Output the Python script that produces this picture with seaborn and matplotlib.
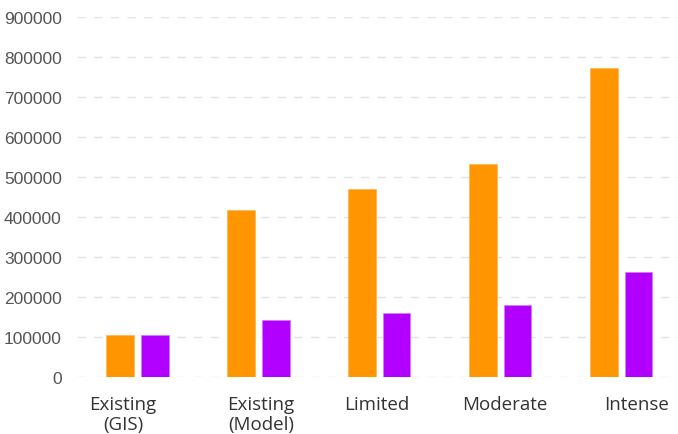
import matplotlib
matplotlib.use("Agg")
import matplotlib.pyplot as plt
import matplotlib.transforms as mtransforms
import seaborn as sns
import pandas as pd

categories = ["Existing\n(GIS)", "Existing\n(Model)", "Limited", "Moderate", "Intense"]
series_names = ["Series A", "Series B"]
orange_values = [104000, 417000, 471000, 532000, 774000]
purple_values = [104000, 141000, 159000, 179000, 262000]
y_ticks = [0, 100000, 200000, 300000, 400000, 500000, 600000, 700000, 800000, 900000]

df = pd.DataFrame({
    "category": categories * 2,
    "series": [series_names[0]] * len(categories) + [series_names[1]] * len(categories),
    "value": orange_values + purple_values,
})

sns.set_style("white")
plt.rcParams["font.family"] = ["Liberation Sans", "DejaVu Sans"]

fig = plt.figure(figsize=(6.78, 4.35), dpi=100)
ax = fig.add_axes([77 / 678, (435 - 377.7) / 435, 1 - 77 / 678, (377.7 - 18.3) / 435])

palette = {series_names[0]: "#FF9500", series_names[1]: "#B100FF"}
sns.barplot(data=df, x="category", y="value", hue="series", order=categories,
            hue_order=series_names, palette=palette, width=0.572, gap=0.2,
            saturation=1, legend=False, ax=ax, errorbar=None)

edge_cols = ["#FFB75A", "#D27CFF"]
for i, cont in enumerate(ax.containers):
    for p in cont:
        p.set_edgecolor(edge_cols[i])
        p.set_linewidth(0.6)

ax.set_ylim(0, 900000)
ax.set_xlim(-0.5, 4.47)
ax.set_yticks(y_ticks)
ax.set_yticklabels([str(v) for v in y_ticks])
ax.set_xlabel("")
ax.set_ylabel("")

for s in ax.spines.values():
    s.set_visible(False)

ax.set_axisbelow(True)
ax.yaxis.grid(True, color="#e3e3e3", linestyle=(0, (6, 6)), linewidth=1.0)
ax.xaxis.grid(False)

ax.tick_params(axis="y", length=0, pad=11, labelsize=12.5, labelcolor="#555555")
ax.tick_params(axis="x", length=0, pad=13)

offsets_px = [-14.5, 2.5, -3, 5, 15]
for lbl, dx in zip(ax.get_xticklabels(), offsets_px):
    lbl.set_fontfamily(["Open Sans", "DejaVu Sans"])
    lbl.set_fontsize(13.5)
    lbl.set_color("#333333")
    lbl.set_linespacing(1.15)
    lbl.set_transform(lbl.get_transform() + mtransforms.ScaledTranslation(dx / 100, 0, fig.dpi_scale_trans))

fig.savefig("out.png", dpi=100)
